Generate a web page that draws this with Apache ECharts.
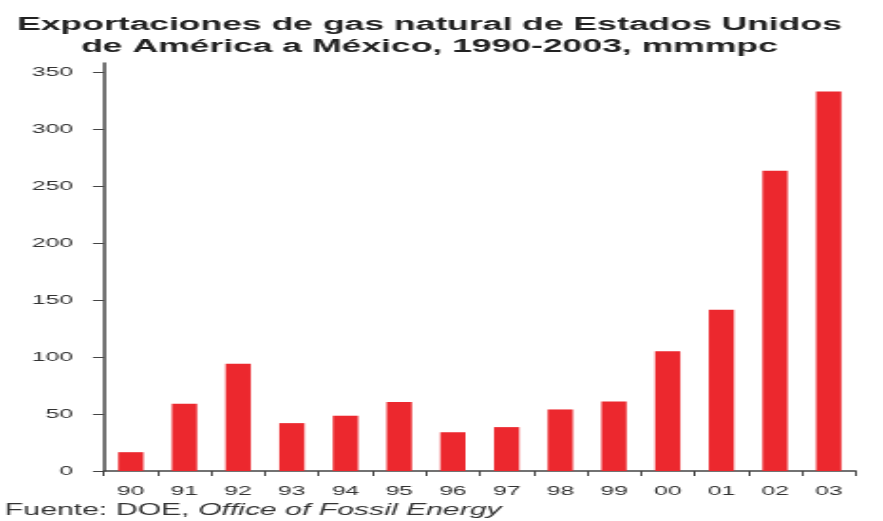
<!DOCTYPE html>
<html>
<head>
<meta charset="utf-8">
<script src="https://cdn.jsdelivr.net/npm/echarts@6/dist/echarts.min.js"></script>
<style>
	html, body { margin: 0; padding: 0; background: #fff; overflow: hidden; }
	/* el original está estirado en horizontal, se dibuja angosto y se escala */
	#chart { width: 464.7px; height: 521px; transform: scaleX(1.9); transform-origin: 0 0; }
</style>
</head>
<body>
<div id="chart"></div>
<script>
var years = ['90', '91', '92', '93', '94', '95', '96', '97', '98', '99', '00', '01', '02', '03'];
var exportsMx = [16.5, 59, 94, 42, 48.5, 60.5, 34, 38.5, 54, 61, 105, 141.5, 263.5, 333];
var yTicks = [0, 50, 100, 150, 200, 250, 300, 350];

var titleText = 'Exportaciones de gas natural de Estados Unidos\nde América a México, 1990-2003, mmmpc';
var sourceText = '{n|Fuente: DOE, }{i|Office of Fossil Energy}';

var chart = echarts.init(document.getElementById('chart'));
var option = {
	animation: false,
	backgroundColor: '#fff',
	title: [
		{
			text: titleText,
			left: 226,
			top: 14,
			padding: 0,
			textAlign: 'center',
			textStyle: {
				fontFamily: 'Liberation Sans, Arial, sans-serif',
				fontSize: 18.7,
				fontWeight: 'bold',
				lineHeight: 22,
				color: '#222'
			}
		},
		{
			text: sourceText,
			left: 2.6,
			top: 503,
			padding: 0,
			textStyle: {
				fontWeight: 'normal',
				rich: {
					n: { fontFamily: 'Liberation Sans, Arial, sans-serif', fontSize: 15.9, fontWeight: 'normal', color: '#333' },
					i: { fontFamily: 'Liberation Sans, Arial, sans-serif', fontSize: 15.9, fontWeight: 'normal', fontStyle: 'italic', color: '#333' }
				}
			}
		}
	],
	grid: { left: 54.7, right: 14.7, top: 63, bottom: 50, containLabel: false },
	xAxis: {
		type: 'category',
		data: years,
		boundaryGap: true,
		axisLine: { lineStyle: { color: '#444', width: 1.6 } },
		axisTick: { show: true, length: 5, interval: 0, lineStyle: { color: '#444', width: 1 } },
		axisLabel: {
			interval: 0,
			margin: 14,
			fontFamily: 'Liberation Sans, Arial, sans-serif',
			fontSize: 13,
			color: '#333'
		}
	},
	yAxis: {
		type: 'value',
		min: 0,
		max: 358,
		interval: 50,
		splitLine: { show: false },
		axisLine: { show: true, lineStyle: { color: '#444', width: 1.5 } },
		axisTick: { show: true, length: 5.8, customValues: yTicks, lineStyle: { color: '#444', width: 1 } },
		axisLabel: {
			customValues: yTicks,
			margin: 16.3,
			fontFamily: 'Liberation Sans, Arial, sans-serif',
			fontSize: 13,
			color: '#333'
		}
	},
	series: [
		{
			type: 'bar',
			data: exportsMx,
			barWidth: '47%',
			itemStyle: { color: '#ec282e' }
		}
	]
};
chart.setOption(option);
</script>
</body>
</html>
